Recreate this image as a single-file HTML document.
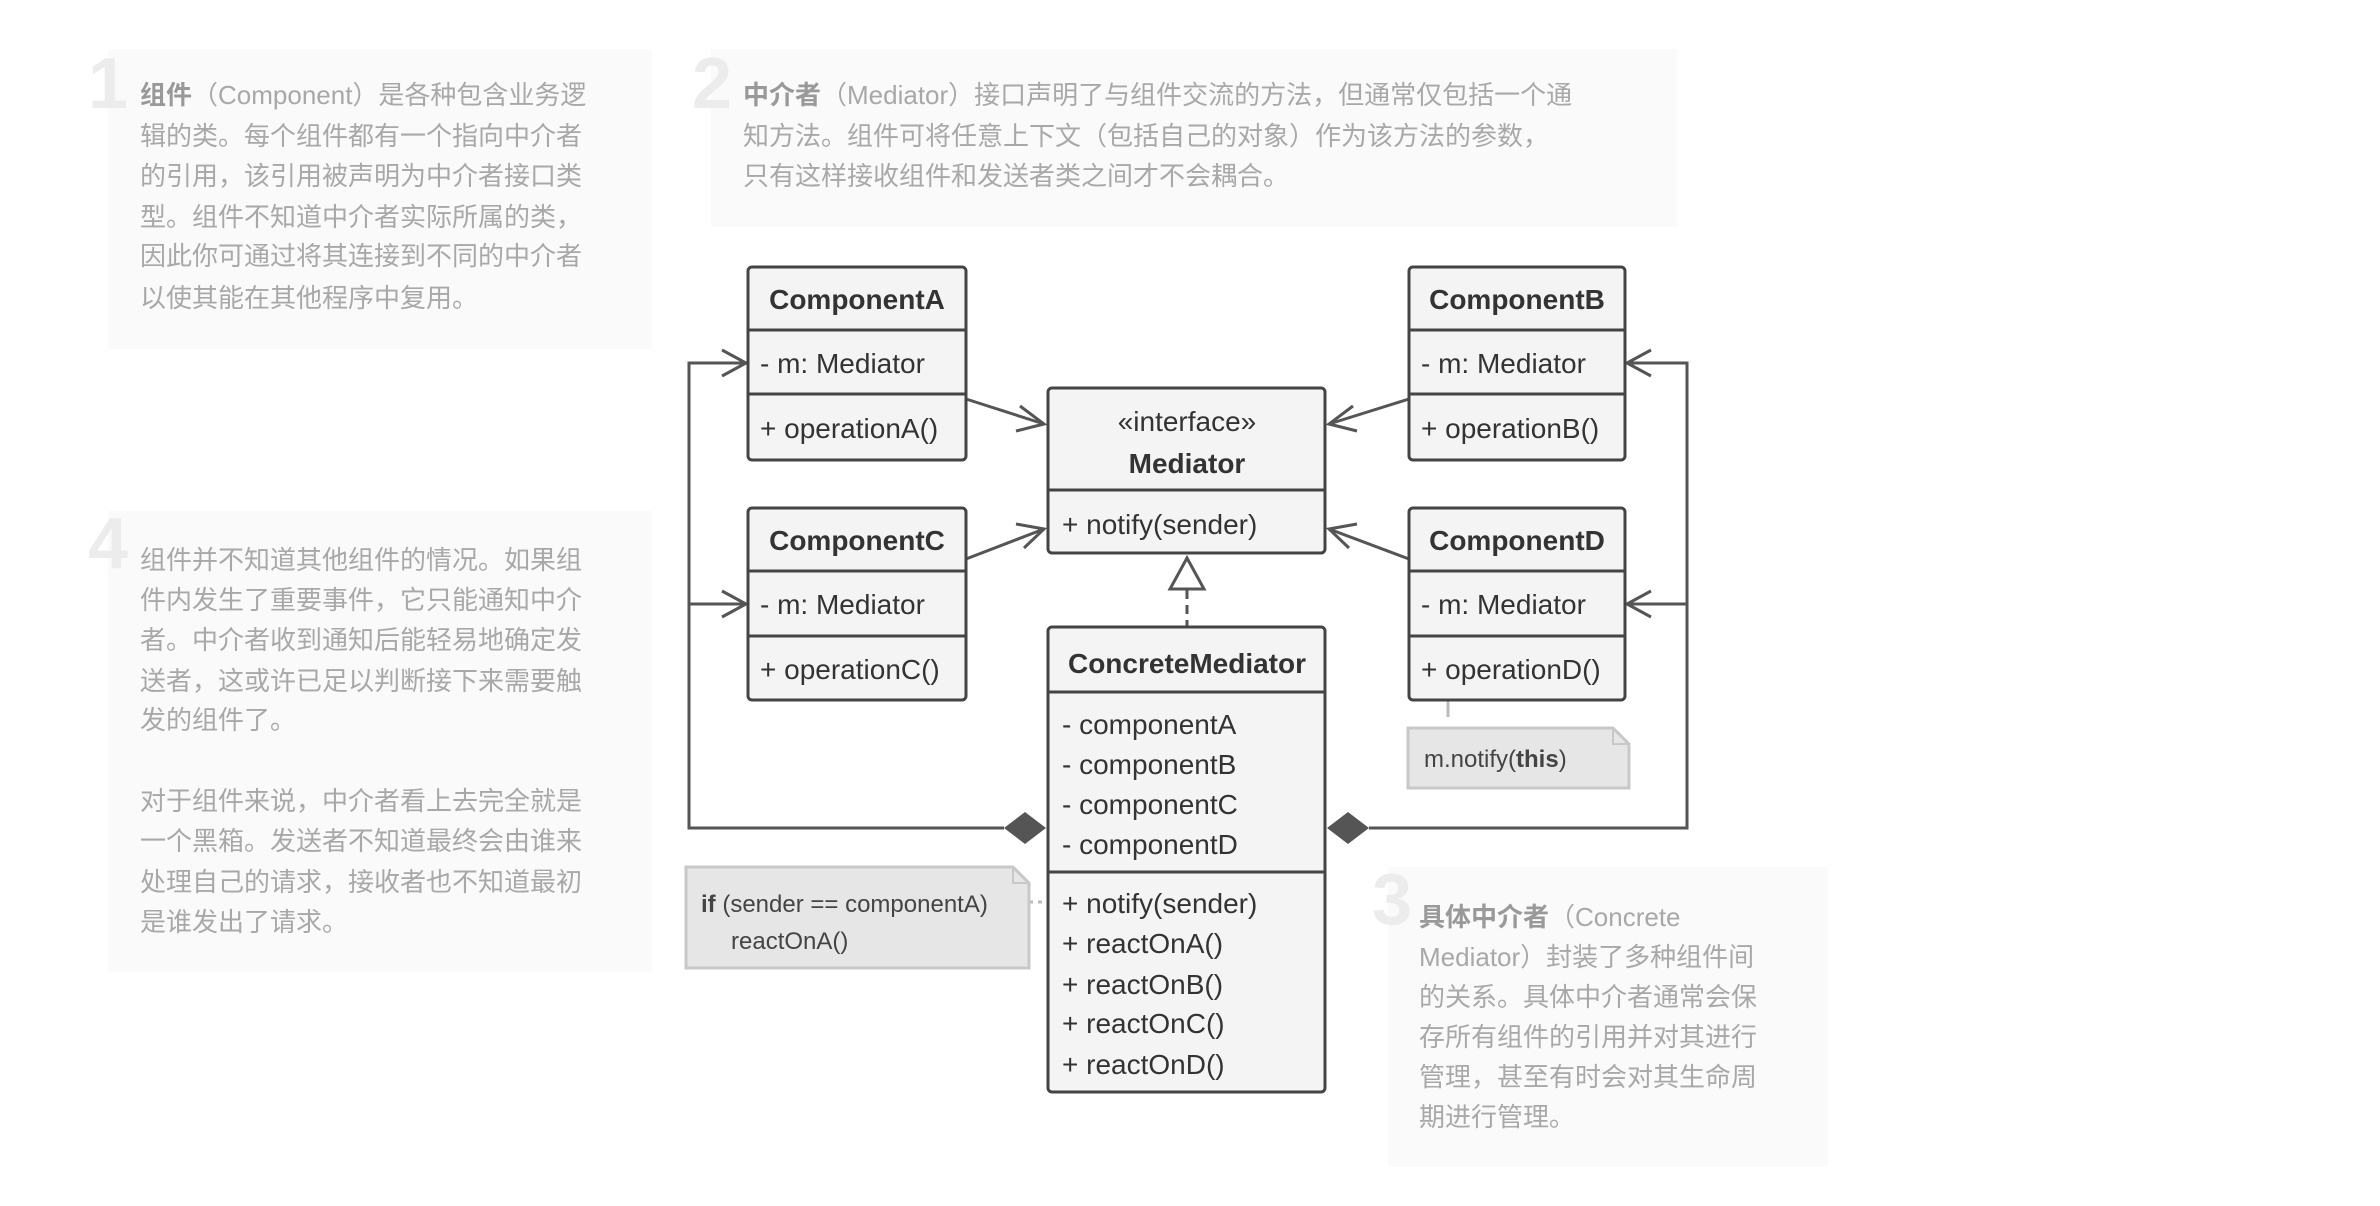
<!DOCTYPE html>
<html><head><meta charset="utf-8"><style>
html,body{margin:0;padding:0;background:#fff;}
svg{display:block;}
.d{font-family:"Liberation Sans","Noto Sans CJK SC",sans-serif;font-size:26px;fill:#a8a8a8;}
.d .b{font-weight:bold;fill:#999;}
.n{font-family:"Liberation Sans",sans-serif;font-size:72px;font-weight:bold;fill:#ececec;}
.u{font-family:"Liberation Sans",sans-serif;font-size:28px;fill:#333;}
.ub{font-family:"Liberation Sans",sans-serif;font-size:28px;font-weight:bold;fill:#333;}
.nt{font-family:"Liberation Sans",sans-serif;font-size:24px;fill:#444;}
</style></head><body>
<svg width="2380" height="1206" viewBox="0 0 2380 1206" xmlns="http://www.w3.org/2000/svg">
<!-- description boxes -->
<rect x="108" y="49" width="544" height="300" fill="#fafafa"/>
<rect x="711" y="49" width="966" height="178" fill="#fafafa"/>
<rect x="108" y="511" width="544" height="461" fill="#fafafa"/>
<rect x="1388" y="867" width="440" height="300" fill="#fafafa"/>
<text class="n" x="88" y="108">1</text>
<text class="n" x="692" y="108">2</text>
<text class="n" x="88" y="568">4</text>
<text class="n" x="1372" y="924">3</text>

<g class="d">
<text x="140" y="104"><tspan class="b">组件</tspan>（Component）是各种包含业务逻</text>
<text x="140" y="145">辑的类。每个组件都有一个指向中介者</text>
<text x="140" y="185">的引用，该引用被声明为中介者接口类</text>
<text x="140" y="226">型。组件不知道中介者实际所属的类，</text>
<text x="140" y="265">因此你可通过将其连接到不同的中介者</text>
<text x="140" y="307">以使其能在其他程序中复用。</text>

<text x="743" y="104"><tspan class="b">中介者</tspan>（Mediator）接口声明了与组件交流的方法，但通常仅包括一个通</text>
<text x="743" y="145">知方法。组件可将任意上下文（包括自己的对象）作为该方法的参数，</text>
<text x="743" y="185">只有这样接收组件和发送者类之间才不会耦合。</text>

<text x="140" y="569">组件并不知道其他组件的情况。如果组</text>
<text x="140" y="609">件内发生了重要事件，它只能通知中介</text>
<text x="140" y="649">者。中介者收到通知后能轻易地确定发</text>
<text x="140" y="690">送者，这或许已足以判断接下来需要触</text>
<text x="140" y="729">发的组件了。</text>
<text x="140" y="810">对于组件来说，中介者看上去完全就是</text>
<text x="140" y="850">一个黑箱。发送者不知道最终会由谁来</text>
<text x="140" y="891">处理自己的请求，接收者也不知道最初</text>
<text x="140" y="931">是谁发出了请求。</text>

<text x="1419" y="926"><tspan class="b">具体中介者</tspan>（Concrete</text>
<text x="1419" y="966">Mediator）封装了多种组件间</text>
<text x="1419" y="1006">的关系。具体中介者通常会保</text>
<text x="1419" y="1046">存所有组件的引用并对其进行</text>
<text x="1419" y="1086">管理，甚至有时会对其生命周</text>
<text x="1419" y="1126">期进行管理。</text>
</g>

<!-- connectors -->
<g stroke="#555" stroke-width="3" fill="none">
<polyline points="1004,828 689,828 689,363 746,363"/>
<line x1="689" y1="604" x2="746" y2="604"/>
<polyline points="722,350 746,363 722,376"/>
<polyline points="722,591 746,604 722,617"/>
<polyline points="1369,828 1687,828 1687,363 1627,363"/>
<line x1="1687" y1="604" x2="1627" y2="604"/>
<polyline points="1651,350 1627,363 1651,376"/>
<polyline points="1651,591 1627,604 1651,617"/>
<line x1="966" y1="399" x2="1044" y2="424"/>
<polyline points="1020,406 1044,424 1016,431"/>
<line x1="966" y1="559" x2="1044" y2="529"/>
<polyline points="1016,524 1044,529 1024,548"/>
<line x1="1409" y1="399" x2="1329" y2="424"/>
<polyline points="1357,431 1329,424 1353,406"/>
<line x1="1409" y1="559" x2="1329" y2="529"/>
<polyline points="1349,548 1329,529 1357,524"/>
<line x1="1187" y1="590" x2="1187" y2="627" stroke-dasharray="9,6"/>
</g>
<polygon points="1187,558 1170,589 1204,589" fill="#fff" stroke="#555" stroke-width="3"/>
<polygon points="1004,828 1025,812 1046,828 1025,844" fill="#555"/>
<polygon points="1327,828 1348,812 1369,828 1348,844" fill="#555"/>
<line x1="1448" y1="701" x2="1448" y2="717" stroke="#bbb" stroke-width="3"/>
<line x1="1029" y1="902" x2="1048" y2="902" stroke="#bbb" stroke-width="3" stroke-dasharray="4,5"/>

<!-- notes -->
<path d="M1408,728 L1613,728 L1629,744 L1629,788 L1408,788 Z" fill="#e6e6e6" stroke="#c8c8c8" stroke-width="3"/>
<path d="M1613,728 L1613,744 L1629,744" fill="none" stroke="#c8c8c8" stroke-width="2"/>
<text class="nt" x="1424" y="767">m.notify(<tspan font-weight="bold">this</tspan>)</text>
<path d="M686,867 L1013,867 L1029,883 L1029,968 L686,968 Z" fill="#e6e6e6" stroke="#c8c8c8" stroke-width="3"/>
<path d="M1013,867 L1013,883 L1029,883" fill="none" stroke="#c8c8c8" stroke-width="2"/>
<text class="nt" x="701" y="912"><tspan font-weight="bold">if</tspan> (sender == componentA)</text>
<text class="nt" x="731" y="949">reactOnA()</text>

<!-- class boxes -->
<g fill="#f4f4f4" stroke="#444" stroke-width="3">
<rect x="748" y="267" width="218" height="193" rx="4"/>
<rect x="1409" y="267" width="216" height="193" rx="4"/>
<rect x="748" y="508" width="218" height="192" rx="4"/>
<rect x="1409" y="508" width="216" height="192" rx="4"/>
<rect x="1048" y="388" width="277" height="165" rx="4"/>
<rect x="1048" y="627" width="277" height="465" rx="4"/>
</g>
<g stroke="#444" stroke-width="3">
<line x1="748" y1="330" x2="966" y2="330"/><line x1="748" y1="394" x2="966" y2="394"/>
<line x1="1409" y1="330" x2="1625" y2="330"/><line x1="1409" y1="394" x2="1625" y2="394"/>
<line x1="748" y1="571" x2="966" y2="571"/><line x1="748" y1="636" x2="966" y2="636"/>
<line x1="1409" y1="571" x2="1625" y2="571"/><line x1="1409" y1="636" x2="1625" y2="636"/>
<line x1="1048" y1="490" x2="1325" y2="490"/>
<line x1="1048" y1="692" x2="1325" y2="692"/><line x1="1048" y1="872" x2="1325" y2="872"/>
</g>
<text class="ub" x="857" y="309" text-anchor="middle">ComponentA</text>
<text class="u" x="760" y="373">- m: Mediator</text>
<text class="u" x="760" y="438">+ operationA()</text>
<text class="ub" x="1517" y="309" text-anchor="middle">ComponentB</text>
<text class="u" x="1421" y="373">- m: Mediator</text>
<text class="u" x="1421" y="438">+ operationB()</text>
<text class="ub" x="857" y="550" text-anchor="middle">ComponentC</text>
<text class="u" x="760" y="614">- m: Mediator</text>
<text class="u" x="760" y="679">+ operationC()</text>
<text class="ub" x="1517" y="550" text-anchor="middle">ComponentD</text>
<text class="u" x="1421" y="614">- m: Mediator</text>
<text class="u" x="1421" y="679">+ operationD()</text>
<text class="u" x="1187" y="431" text-anchor="middle">«interface»</text>
<text class="ub" x="1187" y="473" text-anchor="middle">Mediator</text>
<text class="u" x="1062" y="534">+ notify(sender)</text>
<text class="ub" x="1187" y="673" text-anchor="middle">ConcreteMediator</text>
<text class="u" x="1062" y="734">- componentA</text>
<text class="u" x="1062" y="774">- componentB</text>
<text class="u" x="1062" y="814">- componentC</text>
<text class="u" x="1062" y="854">- componentD</text>
<text class="u" x="1062" y="913">+ notify(sender)</text>
<text class="u" x="1062" y="953">+ reactOnA()</text>
<text class="u" x="1062" y="994">+ reactOnB()</text>
<text class="u" x="1062" y="1033">+ reactOnC()</text>
<text class="u" x="1062" y="1074">+ reactOnD()</text>
</svg>
</body></html>
